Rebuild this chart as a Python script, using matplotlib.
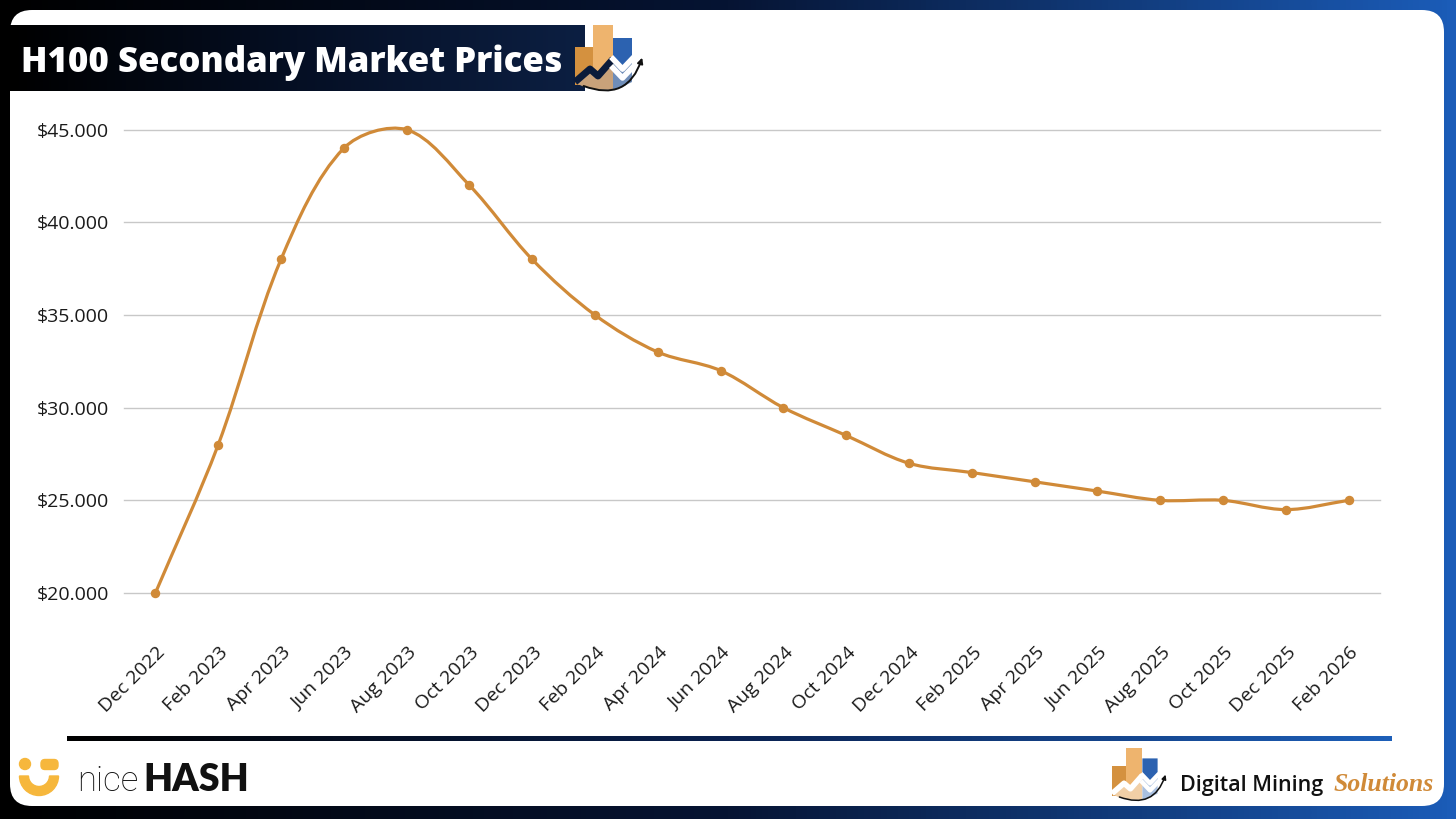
import matplotlib
matplotlib.use("Agg")
import numpy as np
import matplotlib.pyplot as plt
import matplotlib.transforms as mtransforms
from matplotlib.path import Path
from matplotlib.patches import PathPatch, FancyBboxPatch, Polygon, Circle, Wedge, FancyArrowPatch
from matplotlib.colors import LinearSegmentedColormap

months = ["Dec 2022", "Feb 2023", "Apr 2023", "Jun 2023", "Aug 2023", "Oct 2023",
          "Dec 2023", "Feb 2024", "Apr 2024", "Jun 2024", "Aug 2024", "Oct 2024",
          "Dec 2024", "Feb 2025", "Apr 2025", "Jun 2025", "Aug 2025", "Oct 2025",
          "Dec 2025", "Feb 2026"]
prices = [20000, 28000, 38000, 44000, 45000, 42000, 38000, 35000, 33000, 32000,
          30000, 28500, 27000, 26500, 26000, 25500, 25000, 25000, 24500, 25000]
y_ticks = [20000, 25000, 30000, 35000, 40000, 45000]
y_tick_labels = ["$20.000", "$25.000", "$30.000", "$35.000", "$40.000", "$45.000"]
title = "H100 Secondary Market Prices"

W, H = 1456, 819
LINE = "#D08A38"
FONT = ["Open Sans", "DejaVu Sans"]


def smooth_path(ax, x, y):
    # excel-style smoothing: bezier handles scaled by segment length on screen
    pts = np.column_stack([x, y]).astype(float)
    scr = ax.transData.transform(pts)
    n = len(pts)
    d = np.hypot(*np.diff(scr, axis=0).T)
    verts = [tuple(pts[0])]
    codes = [Path.MOVETO]
    for i in range(n - 1):
        a = max(i - 1, 0)
        b = min(i + 2, n - 1)
        da = d[i - 1] if i > 0 else 0.0
        db = d[i + 1] if i + 2 < n else 0.0
        c1 = pts[i] + (pts[i + 1] - pts[a]) * d[i] / (da + d[i]) / 3
        c2 = pts[i + 1] - (pts[b] - pts[i]) * d[i] / (d[i] + db) / 3
        verts += [tuple(c1), tuple(c2), tuple(pts[i + 1])]
        codes += [Path.CURVE4] * 3
    return Path(verts, codes)


def gradient(ax, extent, colors, z):
    cmap = LinearSegmentedColormap.from_list("g", colors)
    ax.imshow(np.linspace(0, 1, 256)[None, :], cmap=cmap, extent=extent,
              aspect="auto", zorder=z, interpolation="bicubic")


def draw_logo(ax, x0, y0, s, zig, tan, sky):
    def P(pts):
        return [(x0 + px * s, y0 + py * s) for px, py in pts]
    ax.add_patch(Polygon(P([(0, 22), (18, 22), (18, 60), (0, 60)]), color="#D4913F", lw=0, zorder=5))
    ax.add_patch(Polygon(P([(18, 0), (38, 0), (38, 55), (18, 55)]), color="#EEB46E", lw=0, zorder=5))
    ax.add_patch(Polygon(P([(38, 13), (57, 13), (57, 38), (47.5, 46), (38, 38)]), color="#2C62B0", lw=0, zorder=5))
    ax.add_patch(Polygon(P([(1, 58), (15, 46), (23, 53), (38, 37), (38, 65), (20, 64), (7, 61)]),
                         color=tan, lw=0, zorder=5))
    ax.add_patch(Polygon(P([(38, 37), (47.5, 47), (57, 37), (57, 57), (47, 62), (38, 65)]),
                         color=sky, lw=0, zorder=5))
    zx, zy = zip(*P([(0, 57), (15, 44), (23, 51), (38, 34)]))
    ax.plot(zx, zy, color=zig, lw=5 * s, solid_capstyle="butt", zorder=6)
    for dy in (0, 9):
        cx, cy = zip(*P([(38, 34 + dy), (47.5, 44 + dy), (57, 34 + dy)]))
        ax.plot(cx, cy, color="white", lw=4 * s, zorder=6)
    a, b = P([(6, 60), (68, 30)])
    ax.add_patch(FancyArrowPatch(a, b, connectionstyle="arc3,rad=0.55", arrowstyle="-|>",
                                 mutation_scale=8 * s, lw=1.4 * s, color="#111111", zorder=7))


fig = plt.figure(figsize=(W / 100, H / 100), dpi=100)

bg = fig.add_axes([0, 0, 1, 1])
bg.set_xlim(0, W)
bg.set_ylim(H, 0)
bg.axis("off")
gradient(bg, (0, W, H, 0), ["#000000", "#061433", "#1B5CB8"], 0)
bg.add_patch(FancyBboxPatch((10, 10), 1434, 796, boxstyle="round,pad=0,rounding_size=22",
                            fc="white", ec="none", zorder=1))
gradient(bg, (10, 585, 91, 25), ["#000000", "#050f24", "#0c1f42"], 2)
bg.text(21, 72, title, color="white", fontsize=25, fontweight="heavy", family=FONT,
        va="baseline", ha="left", zorder=3)
draw_logo(bg, 575, 25, 1.0, "#0B1B3A", "#C9A27A", "#6F8DB8")

gradient(bg, (67, 1392, 741.5, 737), ["#000000", "#0a2150", "#1D5FB8"], 2)

# nicehash mark
yel = "#F6B73C"
bg.add_patch(Circle((25, 764), 5.5, color=yel, zorder=5))
bg.add_patch(FancyBboxPatch((41, 759.5), 17, 10, boxstyle="round,pad=0,rounding_size=4",
                            color=yel, zorder=5))
bg.add_patch(Wedge((39, 776), 19.5, 0, 180, width=9, color=yel, zorder=5))
bg.text(77, 791, "nice", fontsize=25, fontweight="light", family=["Roboto", "DejaVu Sans"],
        color="#111111", va="baseline", zorder=5)
bg.text(143, 791, "HASH", fontsize=27, fontweight="heavy", family=["Lato", "DejaVu Sans"],
        color="#111111", va="baseline", zorder=5)

# digital mining solutions mark
draw_logo(bg, 1112, 748, 0.8, "white", "#F1CFA6", "#A9C0E0")
bg.text(1180, 791, "Digital Mining", fontsize=15.5, fontweight="semibold", family=FONT,
        color="#111111", va="baseline", zorder=5)
bg.text(1334, 791, "Solutions", fontsize=18.5, fontweight="bold", fontstyle="italic",
        family=["Liberation Serif", "DejaVu Serif"], color=LINE, va="baseline", zorder=5)

# chart
ax = fig.add_axes([124 / W, 1 - 593 / H, (1380 - 124) / W, (593 - 129.7) / H])
ax.set_facecolor("none")
ax.set_xlim(-0.5, len(months) - 0.5)
ax.set_ylim(20000, 45000)
x = np.arange(len(months))
ax.add_patch(PathPatch(smooth_path(ax, x, prices), fc="none", ec=LINE, lw=2.3,
                       capstyle="round", zorder=3, clip_on=False))
ax.plot(x, prices, "o", color=LINE, ms=5.8, zorder=4, clip_on=False)

ax.set_yticks(y_ticks)
ax.set_yticklabels(y_tick_labels, family=FONT, fontsize=14, color="#1a1a1a")
ax.set_xticks(x)
ax.set_xticklabels(months, family=FONT, fontsize=14, color="#1a1a1a", rotation=45,
                   ha="right", va="center", rotation_mode="anchor")
ax.tick_params(axis="y", length=0, pad=11)
ax.tick_params(axis="x", length=0, pad=41)
shift = mtransforms.ScaledTranslation(7 / 100, 0, fig.dpi_scale_trans)
for lab in ax.get_xticklabels():
    lab.set_transform(lab.get_transform() + shift)
ax.grid(axis="y", color="#C8C8C8", lw=1)
for gl in ax.get_ygridlines():
    gl.set_clip_on(False)
ax.set_axisbelow(True)
for sp in ax.spines.values():
    sp.set_visible(False)

fig.savefig("out.png", dpi=100)
